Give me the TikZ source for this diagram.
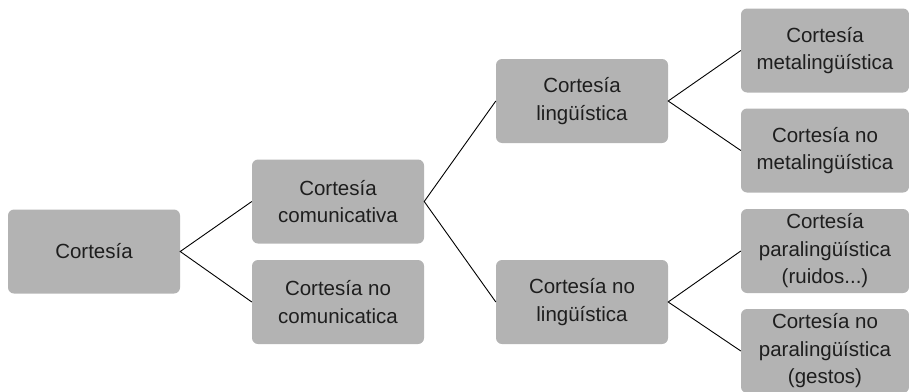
\documentclass[tikz,border=0pt]{standalone}
\usepackage{fontspec}
\setmainfont{Liberation Sans}
\definecolor{boxgray}{HTML}{B3B3B3}
\definecolor{txt}{HTML}{1E1E1E}
\begin{document}
\begin{tikzpicture}[x=1pt,y=-1pt,
  cbox/.style={fill=boxgray, rounded corners=6pt, inner sep=0pt,
    minimum width=172pt, minimum height=84pt, align=center, text=txt,
    font=\fontsize{20.5}{27.5}\selectfont},
  rbox/.style={cbox, minimum width=168pt},
  link/.style={draw=black, line width=0.9pt}]
\useasboundingbox (0,0) rectangle (909,391);
\node[cbox] (A) at (94,251.5) {Cortesía};
\node[cbox] (B) at (338,201.5) {Cortesía\\comunicativa};
\node[cbox] (C) at (338,302) {Cortesía no\\comunicatica};
\node[cbox] (D) at (582,101) {Cortesía\\lingüística};
\node[cbox] (E) at (582,302) {Cortesía no\\lingüística};
\node[rbox] (F) at (825,50.5) {Cortesía\\metalingüística};
\node[rbox] (G) at (825,150.5) {Cortesía no\\metalingüística};
\node[rbox] (H) at (825,251) {Cortesía\\paralingüística\\(ruidos...)};
\node[rbox] (I) at (825,351) {Cortesía no\\paralingüística\\(gestos)};
\draw[link] (B.west) -- (A.east) -- (C.west);
\draw[link] (D.west) -- (B.east) -- (E.west);
\draw[link] (F.west) -- (D.east) -- (G.west);
\draw[link] (H.west) -- (E.east) -- (I.west);
\end{tikzpicture}
\end{document}
